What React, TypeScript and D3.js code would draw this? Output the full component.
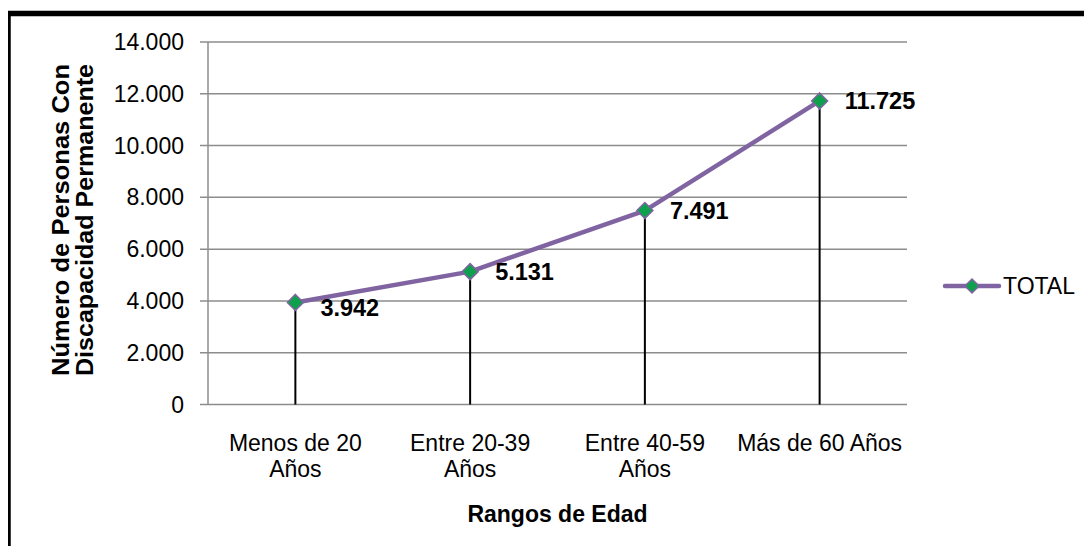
import React, { useEffect, useRef } from 'react';
import * as d3 from 'd3';

const categories = ['Menos de 20 Años', 'Entre 20-39 Años', 'Entre 40-59 Años', 'Más de 60 Años'];
const categoryLines = [['Menos de 20', 'Años'], ['Entre 20-39', 'Años'], ['Entre 40-59', 'Años'], ['Más de 60 Años']];
const totals = [3942, 5131, 7491, 11725];
const yTicks = [0, 2000, 4000, 6000, 8000, 10000, 12000, 14000];
const seriesName = 'TOTAL';
const yTitleLines = ['Número de Personas Con', 'Discapacidad Permanente'];
const xTitle = 'Rangos de Edad';

const W = 1092;
const H = 554;

const fmt = (v: number) => d3.format(',')(v).replace(/,/g, '.');

const App = () => {
  const svgRef = useRef<SVGSVGElement>(null);

  useEffect(() => {
    const svg = d3.select(svgRef.current);
    svg.selectAll('*').remove();

    const font = '"Liberation Sans", Arial, sans-serif';
    const plot = { left: 208, right: 907, top: 42, bottom: 404.5 };

    // fondo y borde
    svg.append('rect').attr('width', W).attr('height', H).attr('fill', '#fff');
    svg.append('rect')
      .attr('x', 8).attr('y', 13.5)
      .attr('width', W + 20).attr('height', H + 20)
      .attr('fill', 'none').attr('stroke', '#000').attr('stroke-width', 5.5);

    const x = d3.scaleBand().domain(categories).range([plot.left, plot.right]);
    const y = d3.scaleLinear().domain([0, 14000]).range([plot.bottom, plot.top]);
    const cx = (i: number) => (x(categories[i]) as number) + x.bandwidth() / 2;

    // rejilla
    svg.append('g').selectAll('line').data(yTicks).enter().append('line')
      .attr('x1', plot.left - 8).attr('x2', plot.right)
      .attr('y1', d => y(d)).attr('y2', d => y(d))
      .attr('stroke', '#8c8c8c').attr('stroke-width', 1.5);

    // eje y
    svg.append('line')
      .attr('x1', plot.left).attr('x2', plot.left)
      .attr('y1', plot.top).attr('y2', plot.bottom)
      .attr('stroke', '#8c8c8c').attr('stroke-width', 1.5);

    svg.append('g').selectAll('text').data(yTicks).enter().append('text')
      .attr('x', plot.left - 24).attr('y', d => y(d))
      .attr('dy', '0.35em')
      .attr('text-anchor', 'end')
      .style('font-family', font).style('font-size', '23px').attr('fill', '#000')
      .text(d => fmt(d));

    // etiquetas del eje x
    const xl = svg.append('g').selectAll('text').data(categoryLines).enter().append('text')
      .attr('text-anchor', 'middle')
      .style('font-family', font).style('font-size', '23px').attr('fill', '#000');
    xl.each(function (lines, i) {
      d3.select(this).selectAll('tspan').data(lines).enter().append('tspan')
        .attr('x', cx(i)).attr('y', (_, j) => 451 + j * 26)
        .text(d => d);
    });

    // líneas de caída
    svg.append('g').selectAll('line').data(totals).enter().append('line')
      .attr('x1', (_, i) => cx(i)).attr('x2', (_, i) => cx(i))
      .attr('y1', d => y(d)).attr('y2', plot.bottom)
      .attr('stroke', '#000').attr('stroke-width', 2);

    // serie
    const line = d3.line<number>().x((_, i) => cx(i)).y(d => y(d));
    svg.append('path').datum(totals)
      .attr('d', line)
      .attr('fill', 'none').attr('stroke', '#8064a2').attr('stroke-width', 4.5)
      .attr('stroke-linejoin', 'round').attr('stroke-linecap', 'round');

    const diamond = (px: number, py: number, r: number) =>
      `M${px},${py - r}L${px + r},${py}L${px},${py + r}L${px - r},${py}Z`;

    svg.append('g').selectAll('path').data(totals).enter().append('path')
      .attr('d', (d, i) => diamond(cx(i), y(d), 8))
      .attr('fill', '#0fa04e').attr('stroke', '#8064a2').attr('stroke-width', 1.5);

    // etiquetas de datos
    svg.append('g').selectAll('text').data(totals).enter().append('text')
      .attr('x', (_, i) => cx(i) + 25)
      .attr('y', (d, i) => y(d) + (i === 0 ? 5 : 0))
      .attr('dy', '0.36em')
      .style('font-family', font).style('font-size', '23.5px').style('font-weight', 'bold')
      .attr('fill', '#000')
      .text(d => fmt(d));

    // títulos de ejes
    svg.append('text')
      .attr('x', (plot.left + plot.right) / 2).attr('y', 522)
      .attr('text-anchor', 'middle')
      .style('font-family', font).style('font-size', '23px').style('font-weight', 'bold')
      .text(xTitle);

    const yt = svg.append('text')
      .attr('transform', 'translate(69,220) rotate(-90)')
      .attr('text-anchor', 'middle')
      .style('font-family', font).style('font-size', '23px').style('font-weight', 'bold');
    yt.selectAll('tspan').data(yTitleLines).enter().append('tspan')
      .attr('x', 0).attr('y', (_, j) => j * 24)
      .attr('textLength', 312).attr('lengthAdjust', 'spacingAndGlyphs')
      .text(d => d);

    // leyenda
    const lg = svg.append('g').attr('transform', 'translate(945,286)');
    lg.append('line').attr('x1', 0).attr('x2', 54).attr('y1', 0).attr('y2', 0)
      .attr('stroke', '#8064a2').attr('stroke-width', 4.5).attr('stroke-linecap', 'round');
    lg.append('path').attr('d', diamond(27, 0, 7))
      .attr('fill', '#0fa04e').attr('stroke', '#8064a2').attr('stroke-width', 1.5);
    lg.append('text').attr('x', 58).attr('y', 0).attr('dy', '0.36em')
      .style('font-family', font).style('font-size', '23px')
      .text(seriesName);
  }, []);

  return (
    <div style={{ margin: -8, width: W, height: H, overflow: 'hidden' }}>
      <svg ref={svgRef} width={W} height={H} style={{ display: 'block' }} />
    </div>
  );
};

export default App;
